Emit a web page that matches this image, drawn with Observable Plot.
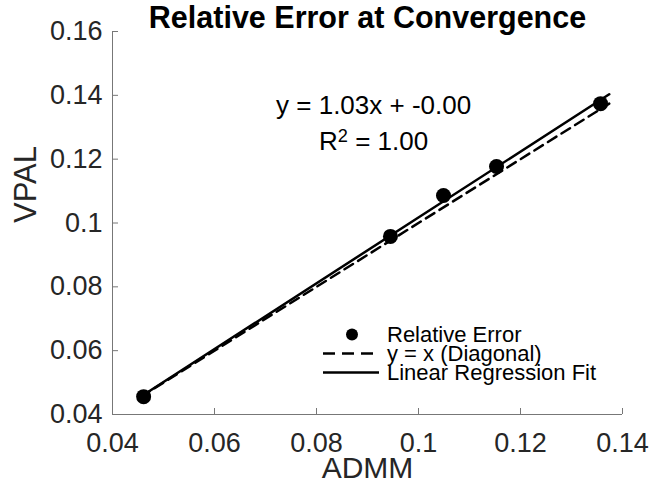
<!DOCTYPE html>
<html><head><meta charset="utf-8">
<script src="https://cdn.jsdelivr.net/npm/d3@7"></script>
<script src="https://cdn.jsdelivr.net/npm/@observablehq/plot@0.6"></script>
<style>
body{margin:0;background:#fff;}
#wrap{position:relative;width:650px;height:486px;font-family:"Liberation Sans",Arial,sans-serif;}
#legend{position:absolute;left:322px;top:325px;font-size:22px;color:#000;line-height:19px;}
.row{display:flex;align-items:center;height:19px;white-space:nowrap;}
.row svg{margin-right:7px;flex:none;}
.row span{display:block;height:19px;line-height:19px;}
</style></head><body><div id="wrap"></div>
<script>
const title = "Relative Error at Convergence";
const xLabel = "ADMM";
const yLabel = "VPAL";
const admm = [0.0461, 0.0945, 0.1049, 0.1153, 0.1357];
const vpal = [0.0456, 0.0958, 0.1086, 0.1177, 0.1374];
const xTicks = [0.04, 0.06, 0.08, 0.1, 0.12, 0.14];
const xTickLabels = ["0.04", "0.06", "0.08", "0.1", "0.12", "0.14"];
const yTicks = [0.04, 0.06, 0.08, 0.1, 0.12, 0.14, 0.16];
const yTickLabels = ["0.04", "0.06", "0.08", "0.1", "0.12", "0.14", "0.16"];
const legendLabels = ["Relative Error", "y = x (Diagonal)", "Linear Regression Fit"];
const annotationAt = {x: 0.0912, y: 0.1322};

// least-squares fit of VPAL on ADMM
const mx = d3.mean(admm), my = d3.mean(vpal);
const sxy = d3.sum(admm, (x, i) => (x - mx) * (vpal[i] - my));
const sxx = d3.sum(admm, x => (x - mx) ** 2);
const slope = sxy / sxx, intercept = my - slope * mx;
const ssRes = d3.sum(admm, (x, i) => (vpal[i] - (slope * x + intercept)) ** 2);
const ssTot = d3.sum(vpal, y => (y - my) ** 2);
const r2 = 1 - ssRes / ssTot;
const eqText = `y = ${slope.toFixed(2)}x + ${intercept.toFixed(2)}`;
const r2Value = ` = ${r2.toFixed(2)}`;
const annText = `${eqText}\nR2${r2Value}`;

const lo = d3.min([...admm, ...vpal]), hi = d3.max([...admm, ...vpal]);
const diagLine = [{x: lo, y: lo}, {x: hi, y: hi}];
const fitLine = [{x: lo, y: slope * lo + intercept}, {x: hi, y: slope * hi + intercept}];
const points = admm.map((x, i) => ({x, y: vpal[i]}));

const fmtX = d => xTickLabels[xTicks.indexOf(d)];
const fmtY = d => yTickLabels[yTicks.indexOf(d)];

const chart = Plot.plot({
  width: 650, height: 486,
  marginLeft: 112, marginRight: 28, marginTop: 31, marginBottom: 72,
  style: {fontFamily: "'Liberation Sans', Arial, sans-serif", fontSize: "27px", color: "#262626", background: "white", overflow: "visible"},
  x: {domain: [0.04, 0.14]},
  y: {domain: [0.04, 0.16]},
  marks: [
    Plot.ruleY([0.04], {stroke: "#777", strokeWidth: 1}),
    Plot.ruleX([0.04], {stroke: "#777", strokeWidth: 1}),
    Plot.axisX(xTicks, {tickSize: -6, tickPadding: 24, tickFormat: fmtX, stroke: "#777", fill: "#262626", fontSize: 27, label: null}),
    Plot.axisY(yTicks, {tickSize: -6, tickPadding: 16, tickFormat: fmtY, stroke: "#777", fill: "#262626", fontSize: 27, label: null}),
    Plot.line(diagLine, {x: "x", y: "y", stroke: "black", strokeWidth: 2.5, strokeDasharray: "10,6"}),
    Plot.line(fitLine, {x: "x", y: "y", stroke: "black", strokeWidth: 2.5}),
    Plot.dot(points, {x: "x", y: "y", r: 7.5, fill: "black", stroke: "none"}),
    Plot.text([annText], {x: () => annotationAt.x, y: () => annotationAt.y, text: d => d, fontSize: 26, fill: "black", lineHeight: 1.4, className: "annot"}),
    Plot.text([title], {text: d => d, frameAnchor: "top", lineAnchor: "middle", dy: -13, fontSize: 30.5, fontWeight: "bold", fill: "black"}),
    Plot.text([xLabel], {text: d => d, frameAnchor: "bottom", lineAnchor: "middle", dy: 54, fontSize: 30, fill: "#262626"}),
    Plot.text([yLabel], {text: d => d, frameAnchor: "left", lineAnchor: "middle", dx: -86, rotate: -90, fontSize: 31, fill: "#262626"})
  ]
});
const wrap = document.getElementById("wrap");
wrap.appendChild(chart);

// superscript for R^2
d3.select(chart).selectAll(".annot tspan").each(function() {
  const t = d3.select(this);
  if (t.text() === `R2${r2Value}`) {
    t.text("");
    t.append("tspan").text("R");
    t.append("tspan").attr("dy", "-0.45em").attr("font-size", "0.7em").text("2");
    t.append("tspan").attr("dy", "0.32em").text(r2Value);
  }
});

const legend = document.createElement("div");
legend.id = "legend";
const kinds = ["dot", "dash", "solid"];
legendLabels.forEach((lab, i) => {
  const row = document.createElement("div");
  row.className = "row";
  const ns = "http://www.w3.org/2000/svg";
  const s = document.createElementNS(ns, "svg");
  s.setAttribute("width", 58); s.setAttribute("height", 19);
  if (kinds[i] === "dot") {
    const c = document.createElementNS(ns, "circle");
    c.setAttribute("cx", 30); c.setAttribute("cy", 9.5); c.setAttribute("r", 6); c.setAttribute("fill", "black");
    s.appendChild(c);
  } else {
    const l = document.createElementNS(ns, "line");
    l.setAttribute("x1", 1); l.setAttribute("x2", 57); l.setAttribute("y1", 9.5); l.setAttribute("y2", 9.5);
    l.setAttribute("stroke", "black"); l.setAttribute("stroke-width", 2.5);
    if (kinds[i] === "dash") l.setAttribute("stroke-dasharray", "12,7");
    s.appendChild(l);
  }
  row.appendChild(s);
  const t = document.createElement("span");
  t.textContent = lab;
  row.appendChild(t);
  legend.appendChild(row);
});
wrap.appendChild(legend);
</script>
</body></html>
